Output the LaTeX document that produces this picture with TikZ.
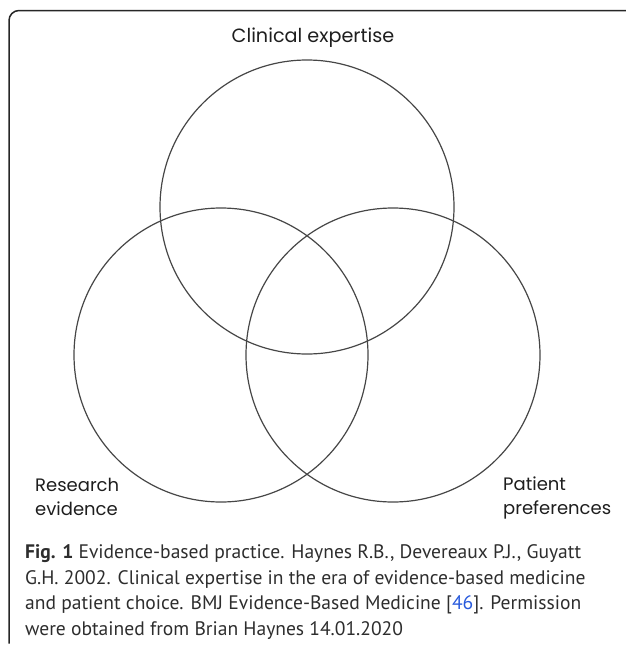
\documentclass[tikz,border=0pt]{standalone}
\usepackage{fontspec}
\setmainfont{PT Sans}
\newfontfamily\labelfont{Poppins}
\definecolor{circlegray}{RGB}{70,70,70}
\definecolor{textdark}{RGB}{30,30,30}
\definecolor{capgray}{RGB}{45,45,45}
\definecolor{linkblue}{RGB}{40,90,220}
\tikzset{
  venn/.style={circle, draw=circlegray, line width=1.2pt, minimum size=294pt, inner sep=0pt},
  framebox/.style={draw=black!85, line width=1.5pt, rounded corners=10pt},
  lab/.style={font=\labelfont\fontsize{18}{23.5}\selectfont, text=textdark, inner sep=0pt, align=left},
  toplab/.style={lab, font=\labelfont\fontsize{19.2}{23.5}\selectfont},
  captext/.style={font=\fontsize{19.55}{25.5}\selectfont, text=capgray, inner sep=0pt, align=left}
}
\begin{document}
\begin{tikzpicture}[x=1pt,y=-1pt]
\useasboundingbox (0,0) rectangle (625,645);
\coordinate (frameTR) at (626,10.5);
\coordinate (frameTL) at (9,10.5);
\coordinate (frameBL) at (9,643.5);
\draw[framebox] (frameTR) -- (frameTL) -- (frameBL);
\node[venn] (clin) at (307,207) {};
\node[venn] (res) at (221,355) {};
\node[venn] (pat) at (393,355) {};
\node[toplab, anchor=base] (lclin) at (313,42) {Clinical expertise};
\node[lab, anchor=base west] (lres) at (35,515) {Research\\evidence};
\node[lab, anchor=base west] (lpat) at (503,514) {Patient\\preferences};
\node[captext, anchor=base west] (cap) at (25,635) {\textbf{Fig. 1} Evidence-based practice. Haynes R.B., Devereaux P.J., Guyatt\\G.H. 2002. Clinical expertise in the era of evidence-based medicine\\and patient choice. BMJ Evidence-Based Medicine [\textcolor{linkblue}{46}]. Permission\\were obtained from Brian Haynes 14.01.2020};
\end{tikzpicture}
\end{document}
